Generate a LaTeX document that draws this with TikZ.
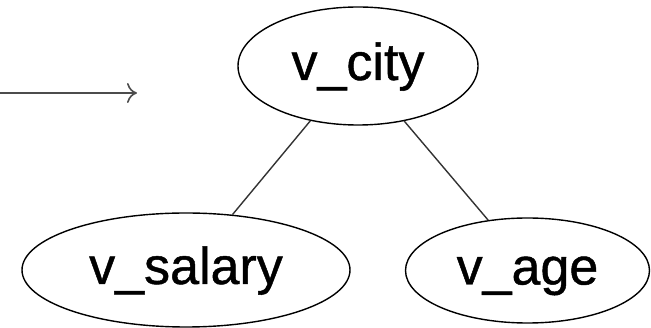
\documentclass[tikz,border=0pt]{standalone}
\usepackage{fontspec}
\setmainfont{Liberation Sans}
\newfontfamily\labelfont{Liberation Sans}[FakeBold=0.9]
\usetikzlibrary{shapes.geometric,arrows.meta}
\begin{document}
\begin{tikzpicture}[x=1pt,y=-1pt,
  vnode/.style={ellipse,draw,line width=1.4pt,inner sep=0pt,
    font=\labelfont\fontsize{52}{60}\selectfont,text height=38pt,text depth=10pt},
  edge/.style={line width=1.4pt,black!80},
  flowarrow/.style={line width=1.6pt,black!70,
    -{Computer Modern Rightarrow[length=10pt,width=20pt,line width=1.6pt]}},
]
\useasboundingbox (0,0) rectangle (651,328);
\node[vnode,minimum width=240pt,minimum height=118pt] (city) at (358,66) {v\_city};
\node[vnode,minimum width=328pt,minimum height=114pt] (salary) at (186,270) {v\_salary};
\node[vnode,minimum width=244pt,minimum height=105pt] (age) at (527.5,270.5) {v\_age};
\draw[edge] (city.229.4) -- (salary.50.5);
\draw[edge] (city.310.6) -- (age.128);
\coordinate (astart) at (-2,93);
\coordinate (aend) at (137,93);
\draw[flowarrow] (astart) -- (aend);
\end{tikzpicture}
\end{document}
